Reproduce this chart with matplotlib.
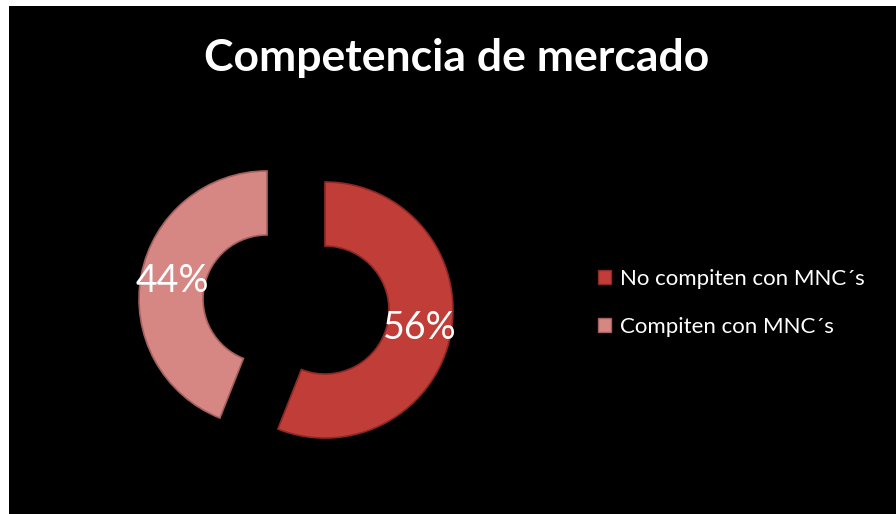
import matplotlib.pyplot as plt
from matplotlib.patches import Rectangle, Patch

plt.rcParams['font.family'] = ['Lato', 'DejaVu Sans']

labels = ['No compiten con MNC´s', 'Compiten con MNC´s']
values = [56, 44]
colors = ['#C13D38', '#D68683']
edges = ['#8E2824', '#A4605D']

fig = plt.figure(figsize=(8.96, 5.14), dpi=100, facecolor='white')

ax = fig.add_axes([0, 0, 1, 1])
ax.set_facecolor('none')
# black chart area, leaves a thin white strip on the left and top
ax.add_patch(Rectangle((9, 0), 896 - 9, 514 - 6, facecolor='black',
                       edgecolor='none', zorder=0))
# explode is in data units here (radius 128 px)
wedges, texts, autotexts = ax.pie(
    values, explode=[29.5, 29.5], startangle=90, counterclock=False,
    colors=colors, radius=128, center=(296, 514 - 304.5),
    autopct='%1.0f%%', pctdistance=0.75,
    wedgeprops=dict(width=64, linewidth=1.2, zorder=2),
    textprops=dict(color='white', fontsize=27, zorder=3))
for w, ec in zip(wedges, edges):
    w.set_edgecolor(ec)
ax.set_xlim(0, 896)
ax.set_ylim(0, 514)
ax.set_aspect('equal')
ax.axis('off')

fig.text(457 / 896, 1 - 71 / 514, 'Competencia de mercado', color='white',
         fontsize=32, fontweight='bold', ha='center', va='baseline')

handles = [Patch(facecolor=c, edgecolor=e) for c, e in zip(colors, edges)]
leg = fig.legend(handles, labels, loc='center left',
                 bbox_to_anchor=(578 / 896, 1 - 303 / 514), frameon=False,
                 fontsize=16, labelcolor='white', handlelength=0.6,
                 handleheight=0.6, handletextpad=0.4, labelspacing=1.25)

fig.savefig('out.png', dpi=100, facecolor='white')
